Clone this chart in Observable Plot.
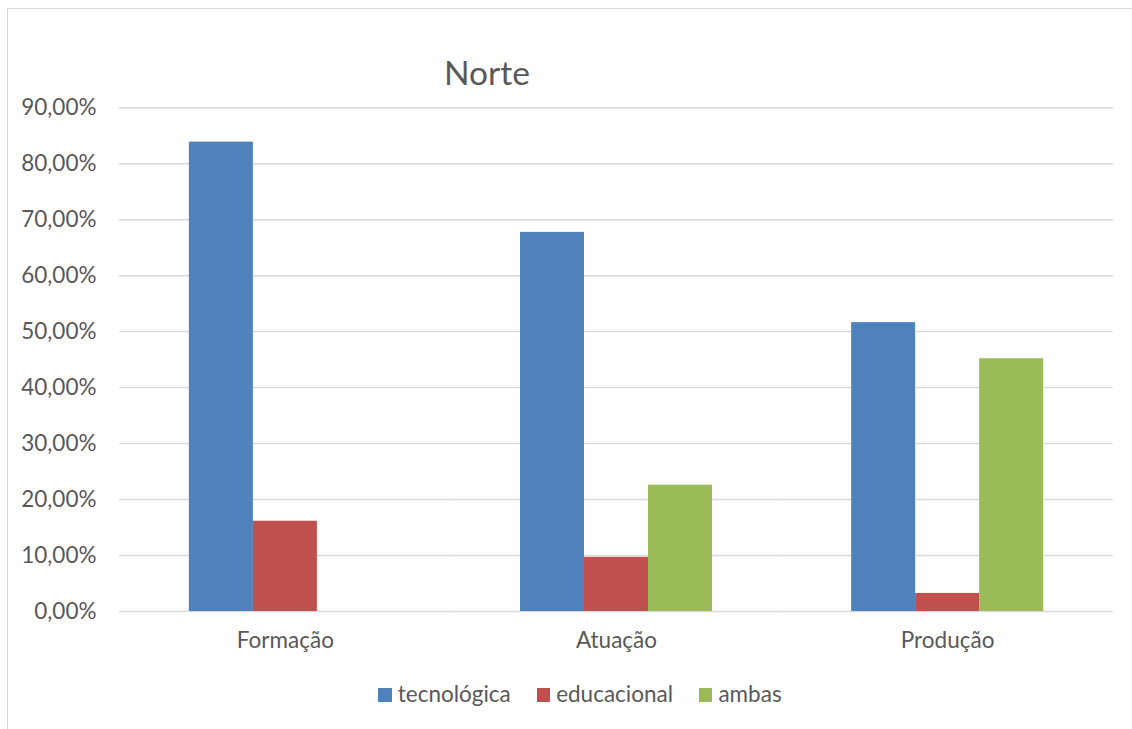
<!DOCTYPE html>
<html>
<head>
<meta charset="utf-8">
<script src="https://cdn.jsdelivr.net/npm/d3@7"></script>
<script src="https://cdn.jsdelivr.net/npm/@observablehq/plot@0.6"></script>
<style>
  html, body { margin: 0; padding: 0; background: #fff; overflow: hidden; }
  #chart { position: relative; width: 1132px; height: 729px; overflow: hidden; font-family: Lato, "Noto Sans", sans-serif; color: #595959; }
  #frame-left { position: absolute; left: 7px; top: 8px; width: 1.4px; height: 760px; background: #d9d9d9; }
  #frame-top { position: absolute; left: 7px; top: 8px; width: 1125px; height: 1.4px; background: #d9d9d9; }
  #title { position: absolute; left: 387px; top: 56px; width: 200px; text-align: center; font-size: 33.5px; line-height: 33.5px; }
  #plot { position: absolute; left: 0; top: 0; }
  #legend { position: absolute; left: 0; width: 1160px; top: 682.5px; text-align: center; font-size: 22.5px; line-height: 22.5px; white-space: nowrap; }
  .item { display: inline-block; margin: 0 13px; }
  .swatch { display: inline-block; width: 13.4px; height: 13.4px; margin-right: 6px; vertical-align: baseline; }
</style>
</head>
<body>
<div id="chart">
  <div id="frame-left"></div>
  <div id="frame-top"></div>
  <div id="title">Norte</div>
  <div id="plot"></div>
  <div id="legend"></div>
</div>
<script>
// Categories, series and their shares (percent)
const groups = ["Formação", "Atuação", "Produção"];
const series = ["tecnológica", "educacional", "ambas"];
const tecnologica = [83.87, 67.74, 51.61];
const educacional = [16.13, 9.68, 3.23];
const ambas = [0, 22.58, 45.16];
const colors = ["#4F81BD", "#C0504D", "#9BBB59"];
const yTicks = [0, 10, 20, 30, 40, 50, 60, 70, 80, 90];

const columns = [tecnologica, educacional, ambas];
const rows = [];
groups.forEach((g, i) => {
  series.forEach((s, j) => rows.push({group: g, serie: s, value: columns[j][i]}));
});

const fmt = d => d.toFixed(2).replace(".", ",") + "%";

const chart = Plot.plot({
  width: 1132,
  height: 660,
  marginLeft: 119.3,
  marginRight: 19.3,
  marginTop: 107.3,
  marginBottom: 49,
  style: {fontFamily: "Lato, 'Noto Sans', sans-serif", fontSize: "22.5px", color: "#595959", background: "transparent", overflow: "visible"},
  fx: {domain: groups, paddingInner: 0, paddingOuter: 0, round: false, label: null, axis: "bottom", tickSize: 0, tickPadding: 21},
  x: {domain: series, axis: null, paddingInner: 0, paddingOuter: 1.087, round: false},
  y: {domain: [0, 90], ticks: yTicks, tickFormat: fmt, tickSize: 0, tickPadding: 23.3, label: null},
  color: {domain: series, range: colors},
  marks: [
    Plot.ruleY(yTicks, {stroke: "#d9d9d9", strokeWidth: 1.4}),
    Plot.barY(rows, {fx: "group", x: "serie", y: "value", fill: "serie"})
  ]
});
document.getElementById("plot").appendChild(chart);

// Legend built from the same series and colours
const legend = d3.select("#legend");
series.forEach((s, j) => {
  const item = legend.append("span").attr("class", "item");
  item.append("span").attr("class", "swatch").style("background", colors[j]);
  item.append("span").text(s);
});
</script>
</body>
</html>
